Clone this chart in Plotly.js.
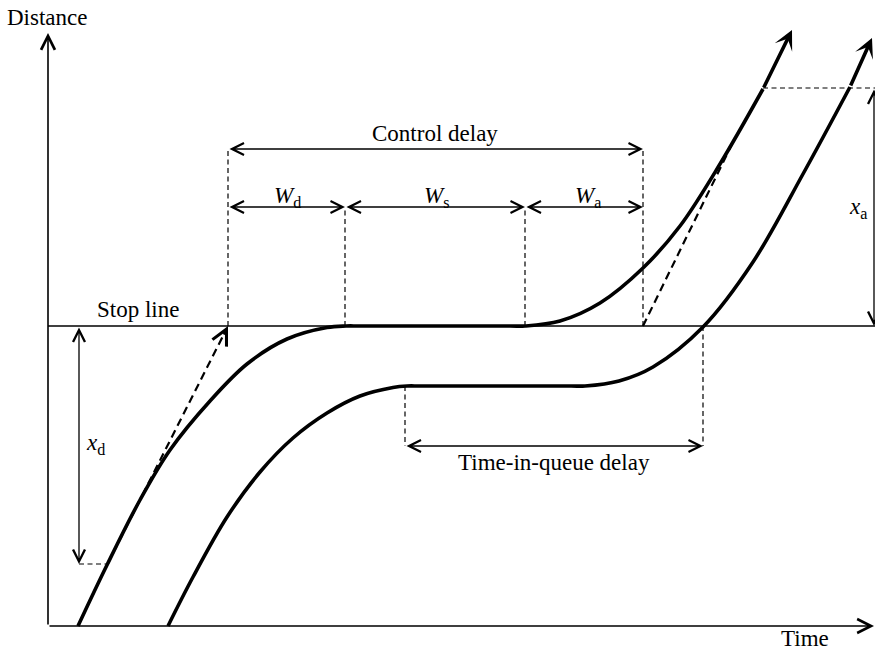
<!DOCTYPE html>
<html>
<head>
<meta charset="utf-8">
<script src="https://cdn.plot.ly/plotly-3.0.1.min.js"></script>
<style>html,body{margin:0;padding:0;background:#fff;}#chart{width:875px;height:652px;}</style>
</head>
<body>
<div id="chart"></div>
<script>
// ---- data (time units / distance units, origin at the axes corner) ----
const leadTime = [30, 59, 92, 122, 162, 199, 239, 279, 298, 312, 462, 477, 512, 552, 595, 632, 672, 715];
const leadDist = [0, 61, 126, 176, 225, 262, 287, 298.5, 300, 300, 300, 300, 305, 323, 358, 400, 462, 537];
const leadTip = [744, 596];

const followTime = [120, 145, 179, 212, 245, 279, 312, 345, 359, 373, 523, 537, 571, 605, 655, 705, 755, 802];
const followDist = [0, 49, 109, 154, 188, 213, 230, 238.5, 240, 240, 240, 240, 245, 259, 299, 364, 452, 539];
const followTip = [824, 588];

const stopLineDist = 300;      // stop line distance
const queueDist = 240;         // stopped position of the follower
const controlTimes = [180, 297, 477, 595];   // deceleration start (virtual), stop, accel start, accel end (virtual)
const queueTimes = [357, 655];               // time-in-queue delay start / end
const decelTangent = [[59, 61], [180, 300]]; // dashed free-flow projection (deceleration)
const accelTangent = [[595, 300], [687, 488]]; // dashed free-flow projection (acceleration)
const xdStart = 62;            // distance where deceleration begins
const xaEnd = 538;             // distance where acceleration ends
const xdTime = 31, xaTime = 826;
const controlArrowDist = 477, wArrowDist = 419, queueArrowDist = 180;
const axisEnds = [826, 593];

// ---- drawing ----
const FONT = '"Liberation Serif", "Times New Roman", serif';
const curveLine = {color: '#000', width: 3.6, shape: 'spline', smoothing: 1};
const traces = [
  {x: leadTime, y: leadDist, mode: 'lines', line: curveLine, hoverinfo: 'skip'},
  {x: followTime, y: followDist, mode: 'lines', line: curveLine, hoverinfo: 'skip'}
];

const shapes = [];
function seg(x0, y0, x1, y1, w, dash) {
  shapes.push({type: 'line', xref: 'x', yref: 'y', x0: x0, y0: y0, x1: x1, y1: y1,
    line: {color: '#000', width: w, dash: dash || 'solid'}});
}
const thinDash = '5px,3.5px';
// stop line
seg(0, stopLineDist, 827, stopLineDist, 1.5);
// dashed verticals for control delay
seg(controlTimes[0], stopLineDist, controlTimes[0], controlArrowDist, 1.2, thinDash);
seg(controlTimes[1], stopLineDist, controlTimes[1], wArrowDist, 1.2, thinDash);
seg(controlTimes[2], stopLineDist, controlTimes[2], wArrowDist, 1.2, thinDash);
seg(controlTimes[3], stopLineDist, controlTimes[3], controlArrowDist, 1.2, thinDash);
// time-in-queue dashed verticals
seg(queueTimes[0], queueDist, queueTimes[0], queueArrowDist, 1.2, thinDash);
seg(queueTimes[1], stopLineDist, queueTimes[1], queueArrowDist, 1.2, thinDash);
// xd and xa dashed horizontals
seg(xdTime, xdStart, decelTangent[0][0], xdStart, 1.2, thinDash);
seg(leadTime[leadTime.length - 1], xaEnd, 827, xaEnd, 1.2, thinDash);
// tangent projections
seg(decelTangent[0][0], decelTangent[0][1], decelTangent[1][0] - 3, decelTangent[1][1] - 6, 2.2, '8px,5px');
seg(accelTangent[0][0], accelTangent[0][1], accelTangent[1][0], accelTangent[1][1], 2.2, '8px,5px');

const ann = [];
function arrow(x, y, ax, ay, w, head, size, both) {
  const a = {x: x, y: y, ax: ax, ay: ay, xref: 'x', yref: 'y', axref: 'x', ayref: 'y', text: '',
    showarrow: true, arrowhead: head, arrowsize: size, arrowwidth: w, arrowcolor: '#000', standoff: 0};
  if (both) { a.arrowside = 'end+start'; a.startarrowhead = head; a.startarrowsize = size; a.startstandoff = 0; }
  ann.push(a);
}
function label(x, y, txt, size) {
  ann.push({x: x, y: y, xref: 'x', yref: 'y', text: txt, showarrow: false, xanchor: 'center', yanchor: 'middle',
    font: {family: FONT, size: size || 23, color: '#000'}});
}
// axes
arrow(axisEnds[0], 0, 0, 0, 1.6, 5, 1.7);
arrow(0, axisEnds[1], 0, 0, 1.6, 5, 1.7);
// dimension arrows
arrow(controlTimes[3], controlArrowDist, controlTimes[0], controlArrowDist, 1.3, 5, 1.8, true);
arrow(controlTimes[1], wArrowDist, controlTimes[0], wArrowDist, 1.3, 5, 1.8, true);
arrow(controlTimes[2], wArrowDist, controlTimes[1], wArrowDist, 1.3, 5, 1.8, true);
arrow(controlTimes[3], wArrowDist, controlTimes[2], wArrowDist, 1.3, 5, 1.8, true);
arrow(queueTimes[1], queueArrowDist, queueTimes[0], queueArrowDist, 1.3, 5, 1.8, true);
arrow(xdTime, xdStart, xdTime, stopLineDist, 1.3, 5, 1.8, true);
arrow(xaTime, stopLineDist, xaTime, xaEnd, 1.3, 5, 1.8, true);
// dashed tangent arrowhead
arrow(decelTangent[1][0], decelTangent[1][1], decelTangent[1][0] - 5, decelTangent[1][1] - 10, 2.2, 5, 1.4);
// trajectory arrow tips
arrow(leadTip[0], leadTip[1], leadTime[leadTime.length - 1], leadDist[leadDist.length - 1], 3.6, 3, 0.9);
arrow(followTip[0], followTip[1], followTime[followTime.length - 1], followDist[followDist.length - 1], 3.6, 3, 0.9);

// labels
label(-1, 609, 'Distance');
label(757, -12, 'Time');
label(89.5, 317, 'Stop line');
label(386.5, 493, 'Control delay');
label(239, 429, '<i>W</i><sub>d</sub>');
label(388, 429, '<i>W</i><sub>s</sub>');
label(540, 429, '<i>W</i><sub>a</sub>');
label(47, 182, '<i>x</i><sub>d</sub>');
label(810, 418, '<i>x</i><sub>a</sub>');
label(506, 164, 'Time-in-queue delay');

const layout = {
  width: 875, height: 652,
  margin: {l: 0, r: 0, t: 0, b: 0, pad: 0},
  paper_bgcolor: '#fff', plot_bgcolor: '#fff',
  showlegend: false,
  xaxis: {range: [-48, 827], visible: false, fixedrange: true},
  yaxis: {range: [-26, 626], visible: false, fixedrange: true},
  shapes: shapes,
  annotations: ann,
  font: {family: FONT, color: '#000'}
};
Plotly.newPlot('chart', traces, layout, {staticPlot: true, displayModeBar: false});
</script>
</body>
</html>
